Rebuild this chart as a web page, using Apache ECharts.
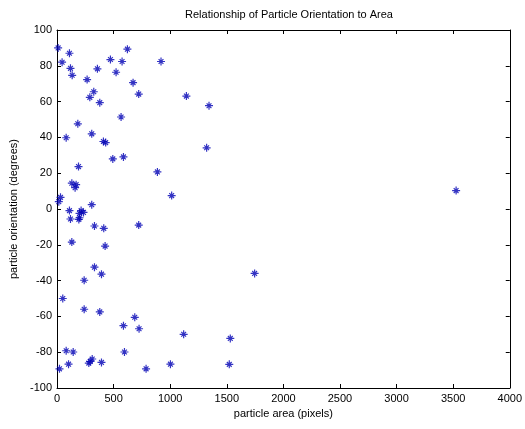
<!DOCTYPE html>
<html>
<head>
<meta charset="utf-8">
<script src="https://cdn.jsdelivr.net/npm/echarts@6/dist/echarts.min.js"></script>
<style>
  html, body { margin: 0; padding: 0; background: #fff; }
  #chart { width: 525px; height: 429px; }
</style>
</head>
<body>
<div id="chart"></div>
<script>
// particle area (pixels) vs orientation (degrees)
var areas = [10, 45, 110, 119, 134, 266, 357, 472, 522, 575, 622, 919, 672, 722,
    325, 290, 378, 1143, 1343, 566, 184, 81, 307, 410, 430, 493, 587, 1322, 887,
    1013, 190, 131, 169, 160, 31, 16, 307, 110, 199, 213, 234, 119, 199, 193, 331,
    413, 722, 131, 425, 331, 393, 240, 51, 240, 378, 687, 587, 725, 1119, 81, 143,
    596, 22, 102, 311, 293, 281, 393, 787, 1002, 1746, 1531, 1522, 3526];
var orientations = [90, 82, 87, 78.6, 74.7, 72.3, 78.3, 83.5, 76.4, 82.4, 89.3, 82.4,
    70.6, 64.2, 65.5, 62.4, 59.4, 63.1, 57.7, 51.4, 47.6, 39.8, 42, 37.7, 37.1, 28,
    29.1, 34.2, 20.7, 7.5, 23.7, 14.4, 13.6, 11.9, 6.5, 4.1, 2.4, -0.9, -2.4, -0.9,
    -1.9, -5.6, -4.9, -5.8, -9.5, -10.8, -9, -18.5, -20.7, -32.5, -36.4, -39.8, -50,
    -56, -57.5, -60.5, -65.2, -66.9, -70, -79.2, -79.9, -79.9, -89.3, -86.7, -83.8,
    -85.2, -86.1, -85.7, -89.3, -86.7, -36, -72.3, -86.8, 10.3];

var points = areas.map(function (a, i) { return [a, orientations[i]]; });

var chart = echarts.init(document.getElementById('chart'));

var font = 'Liberation Sans, Arial, sans-serif';
var tickStyle = { show: true, inside: true, length: 4, lineStyle: { color: '#000' } };
var plain = function (v) { return String(v); };

var option = {
    backgroundColor: '#fff',
    animation: false,
    title: {
        text: 'Relationship of Particle Orientation to Area',
        left: 284, top: 4, textAlign: 'center',
        textStyle: { fontFamily: font, fontSize: 11, fontWeight: 'normal', color: '#000' }
    },
    grid: { left: 57, right: 14, top: 30, bottom: 41 },
    xAxis: [
        {
            type: 'value', min: 0, max: 4000, interval: 500,
            name: 'particle area (pixels)', nameLocation: 'middle', nameGap: 20,
            nameTextStyle: { fontFamily: font, fontSize: 11, color: '#000' },
            axisLine: { show: true, onZero: false, lineStyle: { color: '#000' } },
            axisTick: tickStyle,
            axisLabel: { fontFamily: font, fontSize: 11, color: '#000', margin: 5, formatter: plain },
            splitLine: { show: false }
        },
        {
            type: 'value', min: 0, max: 4000, interval: 500, position: 'top',
            axisLine: { show: true, onZero: false, lineStyle: { color: '#000' } },
            axisTick: tickStyle, axisLabel: { show: false }, splitLine: { show: false }
        }
    ],
    yAxis: [
        {
            type: 'value', min: -100, max: 100, interval: 20,
            name: 'particle orientation (degrees)', nameLocation: 'middle', nameGap: 34,
            nameTextStyle: { fontFamily: font, fontSize: 11, color: '#000' },
            axisLine: { show: true, onZero: false, lineStyle: { color: '#000' } },
            axisTick: tickStyle,
            axisLabel: { fontFamily: font, fontSize: 11, color: '#000', margin: 5, formatter: plain },
            splitLine: { show: false }
        },
        {
            type: 'value', min: -100, max: 100, interval: 20, position: 'right',
            axisLine: { show: true, onZero: false, lineStyle: { color: '#000' } },
            axisTick: tickStyle, axisLabel: { show: false }, splitLine: { show: false }
        }
    ],
    series: [
        {
            type: 'scatter',
            data: points,
            symbol: 'path://M0,-4L0,4M-4,0L4,0M-2.4,-2.4L2.4,2.4M-2.4,2.4L2.4,-2.4',
            symbolSize: 8,
            itemStyle: { color: 'rgba(0,0,0,0)', borderColor: '#0000b4', borderWidth: 1.2 }
        }
    ]
};

chart.setOption(option);
</script>
</body>
</html>
